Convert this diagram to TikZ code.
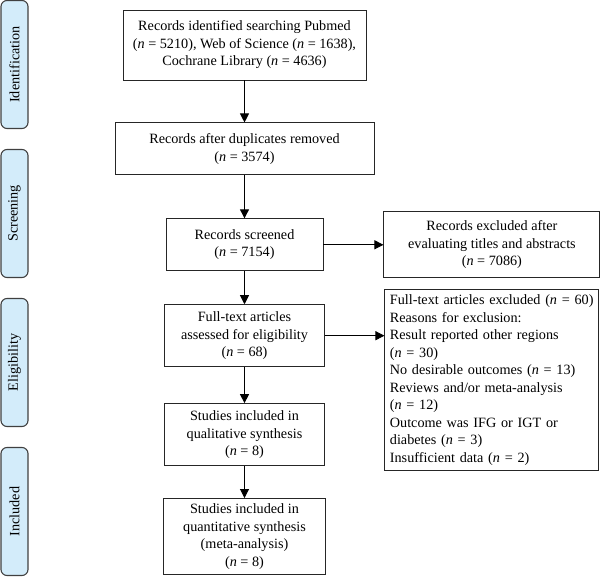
\documentclass[tikz,border=0pt]{standalone}
\usepackage{fontspec}
\setmainfont{Liberation Serif}
\usetikzlibrary{positioning,arrows.meta}
\definecolor{stageblue}{HTML}{D3ECFA}
\newcommand{\ncount}[1]{(\textit{n} = #1)}

\begin{document}
\begin{tikzpicture}[x=1pt,y=1pt,
	box/.style={rectangle,draw=black!85,line width=0.9pt,align=center,inner sep=0pt,font=\fontsize{14.2}{17.5}\selectfont},
	stage/.style={rectangle,rounded corners=6pt,draw=black!75,line width=1.1pt,fill=stageblue,minimum width=128pt,minimum height=27pt,inner sep=0pt,rotate=90,font=\fontsize{14.2}{17.5}\selectfont},
	>={Triangle[length=9pt,width=9pt]}, node distance = 42pt]
	\useasboundingbox (0,0) rectangle (600,-580);
	\node[stage] (identification) at (14.5,-64.5) {Identification};
	\node[stage] (screening) at (14.5,-213.5) {Screening};
	\node[stage] (eligibility) at (14.5,-362.5) {Eligibility};
	\node[stage] (included) at (14.5,-511.5) {Included};
	\node[box,minimum width=243pt,minimum height=70pt] (ident) at (244.5,-45) {Records identified searching Pubmed\\ \ncount{5210}, Web of Science \ncount{1638},\\ Cochrane Library \ncount{4636}};
	\node[box,minimum width=259pt,minimum height=52pt] (dup) [below = 42pt of ident] {Records after duplicates removed\\ \ncount{3574}};
	\node[box,minimum width=157pt,minimum height=52pt] (screen) [below = 43pt of dup] {Records screened\\ \ncount{7154}};
	\node[box,minimum width=160pt,minimum height=62pt] (full) [below = 33pt of screen] {Full-text articles\\ assessed for eligibility\\ \ncount{68}};
	\node[box,minimum width=160pt,minimum height=62pt] (qual) [below = 36pt of full] {Studies included in\\ qualitative synthesis\\ \ncount{8}};
	\node[box,minimum width=162pt,minimum height=76pt] (quant) [below = 32pt of qual] {Studies included in\\ quantitative synthesis\\ (meta-analysis)\\ \ncount{8}};
	\node[box,minimum width=216pt,minimum height=66pt] (excl) [right = 60pt of screen] {Records excluded after\\ evaluating titles and abstracts\\ \ncount{7086}};
	\node[box,align=left,text width=204pt,inner xsep=5pt,minimum height=181pt,anchor=north west] (fullexcl) at ([xshift=1pt,yshift=-11pt]excl.south west) {Full-text articles excluded \ncount{60}\\ Reasons for exclusion:\\ Result reported other regions\\ \ncount{30}\\ No desirable outcomes \ncount{13}\\ Reviews and/or meta-analysis\\ \ncount{12}\\ Outcome was IFG or IGT or\\ diabetes \ncount{3}\\ Insufficient data \ncount{2}};
	\draw[line width=0.9pt,->] (ident) -- (dup);
	\draw[line width=0.9pt,->] (dup) -- (screen);
	\draw[line width=0.9pt,->] (screen) -- (full);
	\draw[line width=0.9pt,->] (full) -- (qual);
	\draw[line width=0.9pt,->] (qual) -- (quant);
	\draw[line width=0.9pt,->] (screen) -- (excl);
	\draw[line width=0.9pt,->] (full.east) -- (full.east -| fullexcl.west);
\end{tikzpicture}
\end{document}
